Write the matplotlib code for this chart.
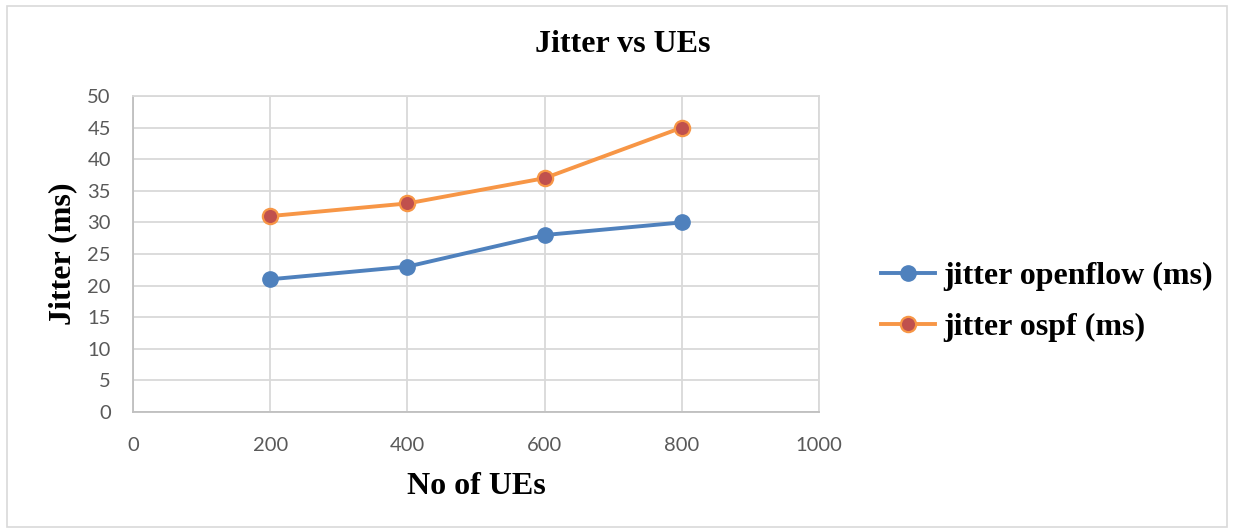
import matplotlib.pyplot as plt
from matplotlib.patches import Rectangle

# data
ues = [200, 400, 600, 800]
jitter_openflow = [21, 23, 28, 30]
jitter_ospf = [31, 33, 37, 45]

blue = '#4f81bd'
orange = '#f79646'
red = '#c0504d'
grid = '#d9d9d9'
tick_col = '#595959'
serif = ['Liberation Serif', 'DejaVu Serif']

fig = plt.figure(figsize=(12.34, 5.31), dpi=100)
ax = fig.add_axes([133 / 1234, 1 - 412 / 531, (819 - 133) / 1234, (412 - 96) / 531])

# thin frame round the whole chart
fig.patches.append(Rectangle((7 / 1234, 4 / 531), 1220 / 1234, 521 / 531,
                             transform=fig.transFigure, fill=False,
                             edgecolor=grid, linewidth=1.2))

ax.plot(ues, jitter_openflow, '-o', color=blue, linewidth=2.8,
        markersize=11, markerfacecolor=blue, markeredgecolor=blue,
        label='jitter openflow (ms)', zorder=3)
ax.plot(ues, jitter_ospf, '-o', color=orange, linewidth=2.8,
        markersize=11, markerfacecolor=red, markeredgecolor=orange,
        markeredgewidth=1.6, label='jitter ospf (ms)', zorder=3)

ax.set_xlim(0, 1000)
ax.set_ylim(0, 50)
ax.set_xticks(range(0, 1001, 200))
ax.set_yticks(range(0, 51, 5))
ax.grid(True, color=grid, linewidth=1.3)
ax.set_axisbelow(True)
for s in ax.spines.values():
    s.set_color(grid)
    s.set_linewidth(1.3)
ax.spines['left'].set_color('#bfbfbf')
ax.spines['bottom'].set_color('#bfbfbf')
ax.tick_params(length=0, labelsize=14.5, colors=tick_col)
ax.tick_params(axis='x', pad=18)
ax.tick_params(axis='y', pad=16)
for lbl in ax.get_xticklabels() + ax.get_yticklabels():
    lbl.set_family(['Lato', 'DejaVu Sans'])

fig.text(623 / 1234, 1 - 45 / 531, 'Jitter vs UEs', ha='center', va='center',
         fontsize=23, fontweight='bold', family=serif)
ax.set_xlabel('No of UEs', fontsize=23, fontweight='bold', family=serif)
ax.set_ylabel('Jitter (ms)', fontsize=23, fontweight='bold', family=serif)
ax.xaxis.set_label_coords(0.5, -0.19)
ax.yaxis.set_label_coords(-0.082, 0.5)

ax.legend(loc='center left', bbox_to_anchor=(1.09, 0.348), frameon=False,
          prop={'family': serif, 'weight': 'bold', 'size': 23},
          handlelength=1.7, handletextpad=0.25, labelspacing=0.68,
          borderpad=0, borderaxespad=0)

fig.savefig('out.png', dpi=100)
